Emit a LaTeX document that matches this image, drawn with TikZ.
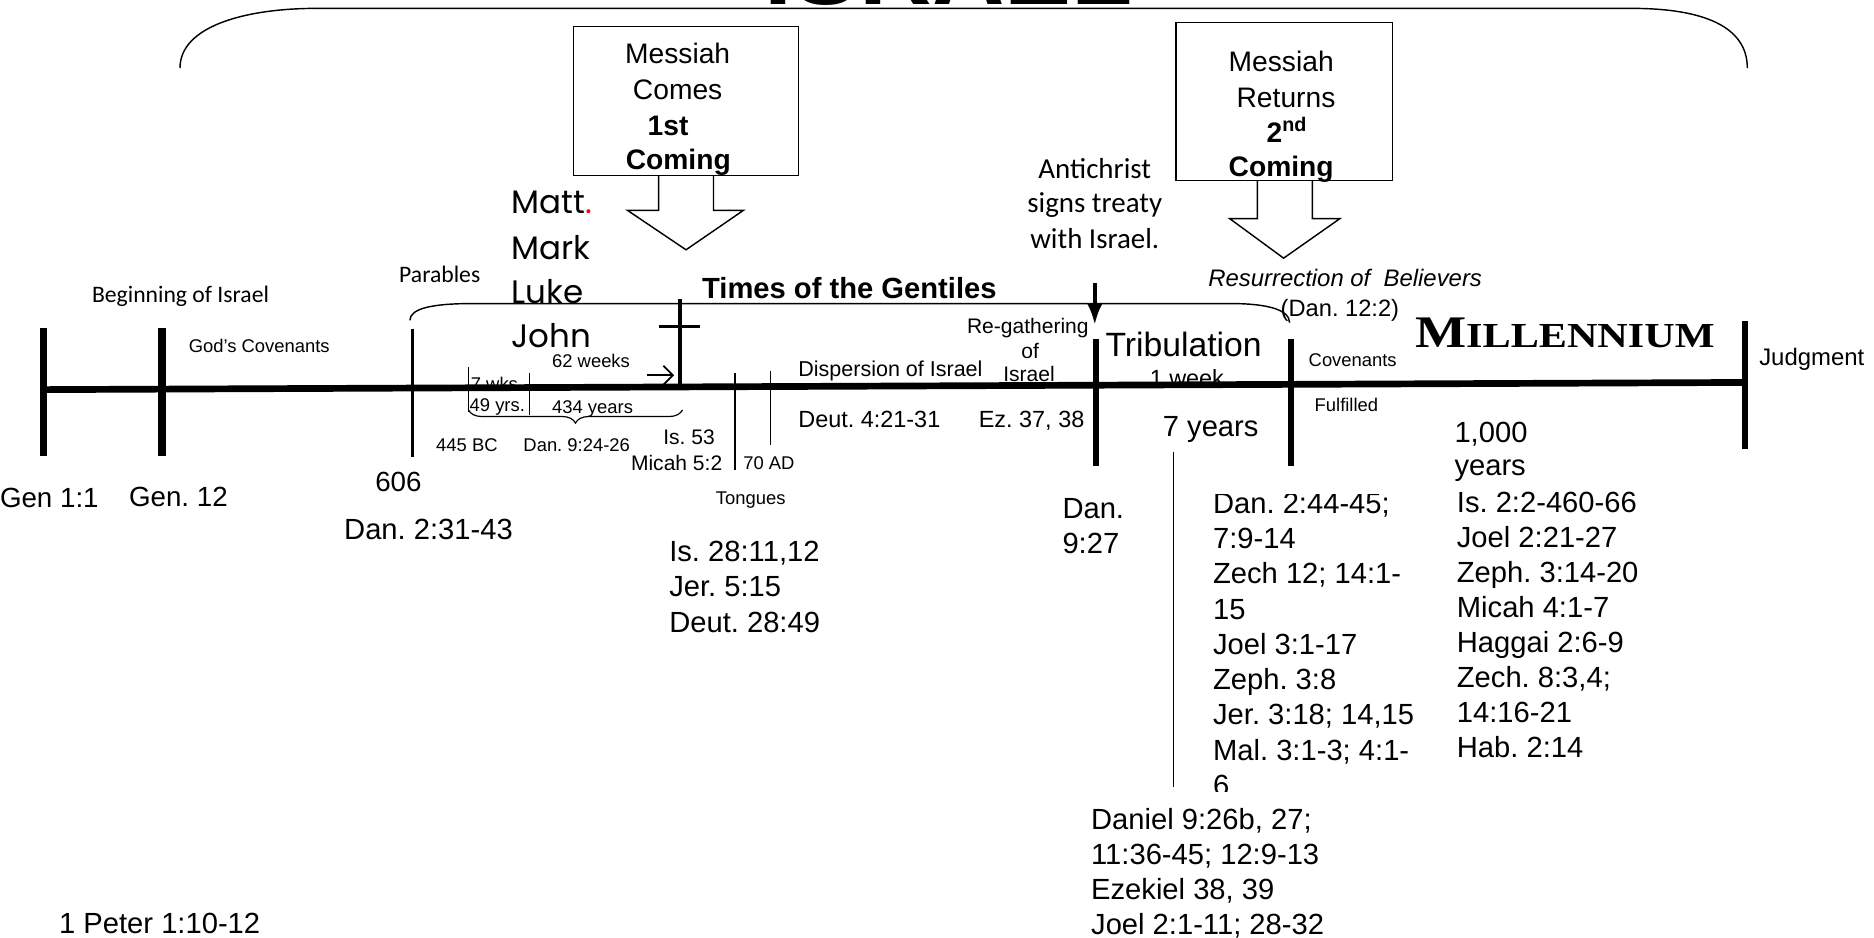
\documentclass[tikz,border=0pt]{standalone}
\usepackage{fontspec}
\setmainfont{Liberation Sans}
\newfontfamily\calibrifont{Carlito}
\newfontfamily\gothicfont{Poppins}
\newfontfamily\capsfont{Liberation Serif}
\usetikzlibrary{arrows.meta,decorations.pathreplacing}
\frenchspacing

\begin{document}
\begin{tikzpicture}[x=0.5pt,y=0.5pt,
  txt/.style={anchor=base west,inner sep=0pt,outer sep=0pt},
  ctxt/.style={anchor=base,inner sep=0pt,outer sep=0pt},
  refbig/.style={font=\fontsize{12.2}{12.2}\selectfont},
  refmid/.style={font=\fontsize{9.8}{9.8}\selectfont},
  refsml/.style={font=\fontsize{7.7}{7.7}\selectfont},
  boxtxt/.style={ctxt,font=\fontsize{11.8}{11.8}\selectfont},
  calib/.style={font=\calibrifont\fontsize{#1}{#1}\selectfont},
  bar/.style={line width=#1},
  thinline/.style={line width=0.5pt}]
\path[use as bounding box] (0,0) rectangle (1568,784);

% title, cut off at the top edge
\begin{scope}
\path[clip] (0,0) rectangle (1568,784);
\node[ctxt,font=\fontsize{42}{42}\selectfont\bfseries] (title) at (794,780.5) {ISRAEL};
\end{scope}

% big bracket over everything
\draw[line width=0.6pt] (150.6,727) .. controls (150.6,762) and (205,777) .. (265,777) --
	(1365,777) .. controls (1425,777) and (1462,762) .. (1462,727);

% first coming
\draw[line width=0.6pt] (480,762) rectangle (668,637);
\node[boxtxt] (comes1) at (567,730.5) {Messiah};
\node[boxtxt] (comes2) at (567,701) {Comes};
\node[boxtxt,font=\fontsize{11.8}{11.8}\selectfont\bfseries] (comes3) at (559,671) {1st};
\node[boxtxt,font=\fontsize{11.8}{11.8}\selectfont\bfseries] (comes4) at (567.5,642) {Coming};
\draw[line width=0.6pt,line join=miter] (551,637) -- (551,608) -- (525,608) -- (574,575) --
	(622,608) -- (597,608) -- (597,637);

% second coming
\draw[line width=0.6pt] (984,765) rectangle (1165,633);
\node[boxtxt] (returns1) at (1072,724) {Messiah};
\node[boxtxt] (returns2) at (1076,694) {Returns};
\node[boxtxt,font=\fontsize{11.8}{11.8}\selectfont\bfseries] (returns3) at (1077,665) {2\textsuperscript{nd}};
\node[boxtxt,font=\fontsize{11.8}{11.8}\selectfont\bfseries] (returns4) at (1072,636) {Coming};
\draw[line width=0.6pt,line join=miter] (1052,633) -- (1052,601) -- (1029,601) -- (1074,568) --
	(1121,601) -- (1098,601) -- (1098,633);

% gospels
\node[txt,font=\gothicfont\fontsize{13.6}{13.6}\selectfont] (matt) at (428,605) {Matt{\color{red}.}};
\node[txt,font=\gothicfont\fontsize{13.6}{13.6}\selectfont] (mark) at (428,567) {Mark};
\node[txt,font=\gothicfont\fontsize{13.6}{13.6}\selectfont] (luke) at (428,530) {Luke};
\node[txt,font=\gothicfont\fontsize{13.6}{13.6}\selectfont] (john) at (428,493) {John};

% antichrist
\node[ctxt,calib=12.1] (anti1) at (916,635) {Antichrist};
\node[ctxt,calib=12.1] (anti2) at (916,606) {signs treaty};
\node[ctxt,calib=12.1] (anti3) at (916,576) {with Israel.};
\coordinate (treaty) at (916,547);
\coordinate (regather) at (916,512);
\draw[line width=1.7pt,-{Latex[length=9pt,width=6.5pt]}] (treaty) -- (regather);

% labels above the line
\node[txt,calib=9.9] (beginning) at (77,531) {Beginning of Israel};
\node[txt,calib=9.9] (parables) at (334,548) {Parables};
\node[txt,refsml] (godcov) at (158,489) {God's Covenants};
\node[txt,font=\fontsize{12.2}{12.2}\selectfont\bfseries] (gentiles) at (587.5,534.5) {Times of the Gentiles};
\draw[line width=0.6pt] (343,516) .. controls (343,526) and (362,530) .. (395,530) --
	(1030,530) .. controls (1060,530) and (1079,525) .. (1079,514);
\node[txt,refsml] (wks7) at (394,457) {7 wks};
\node[txt,refsml] (wks62) at (462,476.5) {62 weeks};
\coordinate (wkstart) at (541,470);
\coordinate (wkend) at (564,470);
\draw[line width=0.7pt,-{Straight Barb[length=4pt,width=8pt]}] (wkstart) -- (wkend);
\node[txt,font=\fontsize{9}{9}\selectfont] (disp) at (668,469) {Dispersion of Israel};
\node[ctxt,font=\fontsize{8.8}{8.8}\selectfont] (regath1) at (860,505) {Re-gathering};
\node[ctxt,font=\fontsize{8.8}{8.8}\selectfont] (regath2) at (862,484) {of};
\node[ctxt,font=\fontsize{8.8}{8.8}\selectfont] (regath3) at (861,464.5) {Israel};
\node[txt,font=\fontsize{14.1}{14.1}\selectfont] (trib) at (925,485.5) {Tribulation};
\node[txt,refmid] (week1) at (962,460.5) {1 week};
\node[txt,font=\itshape\fontsize{10}{10}\selectfont] (resur) at (1011,544) {Resurrection of~ Believers};
\node[txt,font=\fontsize{9.9}{9.9}\selectfont] (dan122) at (1071.6,519) {(Dan. 12:2)};
\node[txt,refsml] (covenants) at (1095,477) {Covenants};
\node[txt,xscale=1.2,font=\capsfont\bfseries] (millennium) at (1184,493)
	{{\fontsize{18.9}{18.9}\selectfont M}{\fontsize{14.7}{14.7}\selectfont ILLENNIUM}};
\node[txt,font=\fontsize{10}{10}\selectfont] (judgment) at (1472,478.5) {Judgment};

% time line
\draw[line width=2.8pt] (36.5,458) -- (1460,464);
\draw[bar=3.1pt] (36.5,509.5) -- (36.5,402.5);
\draw[bar=3.1pt] (135.5,509.5) -- (135.5,402.5);
\draw[bar=1.4pt] (345,509) -- (345,402);
\draw[bar=1.4pt] (569,534) -- (569,461);
\draw[bar=1.4pt] (551,511) -- (586,511);
\draw[bar=2.6pt] (917,500) -- (917,394);
\draw[bar=2.6pt] (1080,500) -- (1080,394);
\draw[bar=2.6pt] (1460,515) -- (1460,408);
\draw[thinline] (392,477) -- (392,439);
\draw[thinline] (443,472) -- (443,437);
\draw[thinline] (615,472) -- (615,391);
\draw[thinline] (645,474) -- (645,412);
\draw[thinline,decorate,decoration={brace,mirror,amplitude=5.5pt}] (392,441) -- (571,441);
\draw[thinline] (982,406) -- (982,125.5);

% labels below the line
\node[txt,font=\fontsize{11.6}{11.6}\selectfont] (gen11) at (0,359) {Gen 1:1};
\node[txt,font=\fontsize{11.6}{11.6}\selectfont] (gen12) at (108,360) {Gen. 12};
\node[txt,font=\fontsize{11.6}{11.6}\selectfont] (n606) at (314,373) {606};
\node[txt,refbig] (dan231) at (288,333) {Dan. 2:31-43};
\node[txt,refsml] (bc445) at (365,406) {445 BC};
\node[txt,refsml] (dan924) at (438,406) {Dan. 9:24-26};
\node[txt,refsml] (yrs49) at (393,440) {49 yrs.};
\node[txt,refsml] (yrs434) at (462,438) {434 years};
\node[txt,font=\fontsize{8.8}{8.8}\selectfont] (is53) at (555,412.5) {Is. 53};
\node[txt,font=\fontsize{8.8}{8.8}\selectfont] (micah) at (528,390) {Micah 5:2};
\node[txt,refsml] (ad70) at (622,391) {70 AD};
\node[txt,refsml] (tongues) at (599,361.5) {Tongues};
\node[txt,refmid] (deut4) at (668,426) {Deut. 4:21-31};
\node[txt,refmid] (ez37) at (819,426) {Ez. 37, 38};
\node[txt,refbig] (is28) at (560,314) {Is. 28:11,12};
\node[txt,refbig] (jer5) at (560,284.5) {Jer. 5:15};
\node[txt,refbig] (deut28) at (560,255) {Deut. 28:49};
\node[txt,refbig] (dan927a) at (889,350) {Dan.};
\node[txt,refbig] (dan927b) at (889,321) {9:27};
\node[txt,refbig] (years7) at (973,418.5) {7 years};
\node[txt,refsml] (fulfilled) at (1100,439.5) {Fulfilled};
\node[txt,refbig] (thousand1) at (1217,414) {1,000};
\node[txt,refbig] (thousand2) at (1217,386.5) {years};

% tribulation references
\begin{scope}
\path[clip] (1000,122) rectangle (1210,370);
\node[txt,refbig] (tref1) at (1015,354.5) {Dan. 2:44-45;};
\node[txt,refbig] (tref2) at (1015,325) {7:9-14};
\node[txt,refbig] (tref3) at (1015,295.5) {Zech 12; 14:1-};
\node[txt,refbig] (tref4) at (1015,266) {15};
\node[txt,refbig] (tref5) at (1015,236.5) {Joel 3:1-17};
\node[txt,refbig] (tref6) at (1015,207) {Zeph. 3:8};
\node[txt,refbig] (tref7) at (1015,177.5) {Jer. 3:18; 14,15};
\node[txt,refbig] (tref8) at (1015,148) {Mal. 3:1-3; 4:1-};
\node[txt,refbig] (tref9) at (1015,118.5) {6};
\end{scope}

% millennium references
\node[txt,refbig] (mref1) at (1219,355.5) {Is. 2:2-460-66};
\node[txt,refbig] (mref2) at (1219,326.2) {Joel 2:21-27};
\node[txt,refbig] (mref3) at (1219,296.9) {Zeph. 3:14-20};
\node[txt,refbig] (mref4) at (1219,267.6) {Micah 4:1-7};
\node[txt,refbig] (mref5) at (1219,238.3) {Haggai 2:6-9};
\node[txt,refbig] (mref6) at (1219,209) {Zech. 8:3,4;};
\node[txt,refbig] (mref7) at (1219,179.7) {14:16-21};
\node[txt,refbig] (mref8) at (1219,150.4) {Hab. 2:14};

% antichrist references
\node[txt,refbig] (aref1) at (913,90) {Daniel 9:26b, 27;};
\node[txt,refbig] (aref2) at (913,60.7) {11:36-45; 12:9-13};
\node[txt,refbig] (aref3) at (913,31.4) {Ezekiel 38, 39};
\node[txt,refbig] (aref4) at (913,2.1) {Joel 2:1-11; 28-32};

\node[txt,refbig] (peter) at (49.5,3) {1 Peter 1:10-12};
\end{tikzpicture}
\end{document}
